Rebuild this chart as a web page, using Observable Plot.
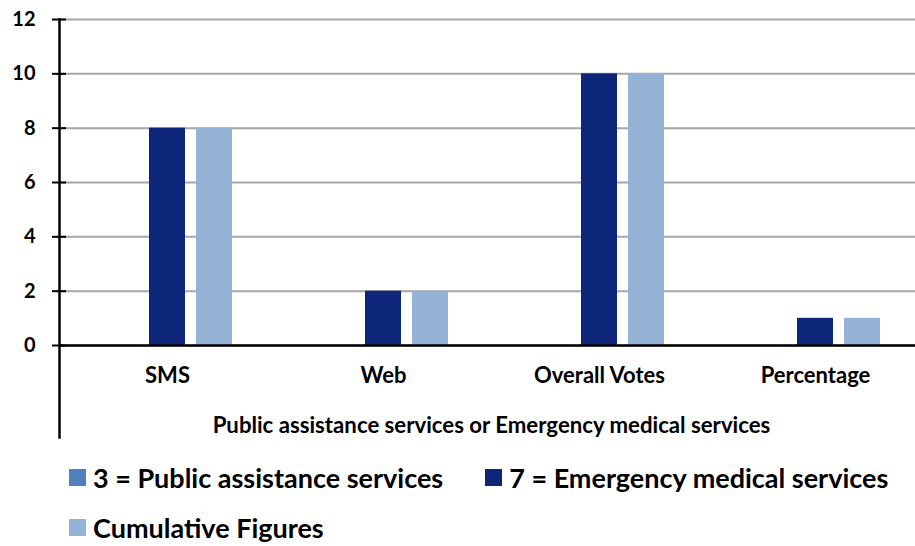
<!DOCTYPE html>
<html>
<head>
<meta charset="utf-8">
<script src="https://cdn.jsdelivr.net/npm/d3@7"></script>
<script src="https://cdn.jsdelivr.net/npm/@observablehq/plot@0.6"></script>
<style>
  html, body { margin: 0; padding: 0; background: white; }
  #chart { width: 915px; }
  .legend { font-family: Lato, "Open Sans", sans-serif; font-weight: bold; font-size: 27px; color: black; padding: 12px 0 0 69px; }
  .legend .row { display: flex; align-items: center; height: 30px; margin-bottom: 20px; }
  .legend .item { display: flex; align-items: center; margin-right: 42px; white-space: nowrap; }
  .legend .sw { width: 17px; height: 17px; margin-right: 7px; flex: none; }
</style>
</head>
<body>
<div id="chart"></div>
<script>
const categories = ["SMS", "Web", "Overall Votes", "Percentage"];
const seriesNames = ["3 = Public assistance services", "7 = Emergency medical services", "Cumulative Figures"];
const publicAssistance = [0, 0, 0, 0];
const emergencyMedical = [8, 2, 10, 1];
const cumulativeFigures = [8, 2, 10, 1];
const yTicks = [0, 2, 4, 6, 8, 10, 12];
const seriesColors = ["#4f81bd", "#0d2679", "#95b3d7"];
const xTitle = "Public assistance services or Emergency medical services";
const legendRows = [[0, 1], [2]];

const seriesValues = [publicAssistance, emergencyMedical, cumulativeFigures];
const data = categories.flatMap((c, i) => seriesNames.map((s, j) => ({category: c, series: s, value: seriesValues[j][i]})));

const chart = Plot.plot({
  width: 915,
  height: 450,
  marginTop: 19,
  marginLeft: 58,
  marginRight: -8,
  marginBottom: 13,
  style: {fontFamily: "Lato, 'Open Sans', sans-serif", fontWeight: "bold", color: "black", background: "white", overflow: "hidden"},
  fx: {domain: categories, padding: 0, axis: null},
  x: {domain: seriesNames, paddingInner: 11 / 48, paddingOuter: 0.868, axis: null},
  y: {domain: [0, 12], range: [345, 19], axis: null},
  color: {domain: seriesNames, range: seriesColors},
  marks: [
    Plot.gridY(yTicks, {stroke: "#a6a6a6", strokeOpacity: 1, strokeWidth: 2}),
    Plot.barY(data, {fx: "category", x: "series", y: "value", fill: "series"}),
    Plot.ruleY([0], {stroke: "black", strokeWidth: 2.5}),
    Plot.frame({anchor: "left", facetAnchor: "left", stroke: "black", strokeWidth: 2.5}),
    Plot.axisY(yTicks, {label: null, tickSize: 14, dx: 7, tickFormat: () => "", stroke: "black", strokeWidth: 2}),
    Plot.axisY(yTicks, {label: null, tickSize: 0, tickPadding: 24, fontSize: 20, fontWeight: "bold", fill: "black"}),
    Plot.text(categories, {fx: d => d, frameAnchor: "bottom", dy: -55, text: d => d, fontSize: 22, fill: "black"}),
    Plot.text([xTitle], {fx: () => "Web", frameAnchor: "bottom-right", textAnchor: "middle", dy: -5, text: d => d, fontSize: 22.2, fill: "black"})
  ]
});
document.getElementById("chart").appendChild(chart);

const legend = d3.select("body").append("div").attr("class", "legend");
legendRows.forEach(r => {
  const row = legend.append("div").attr("class", "row");
  r.forEach(j => {
    const item = row.append("div").attr("class", "item");
    item.append("div").attr("class", "sw").style("background", seriesColors[j]);
    item.append("span").text(seriesNames[j]);
  });
});
</script>
</body>
</html>
